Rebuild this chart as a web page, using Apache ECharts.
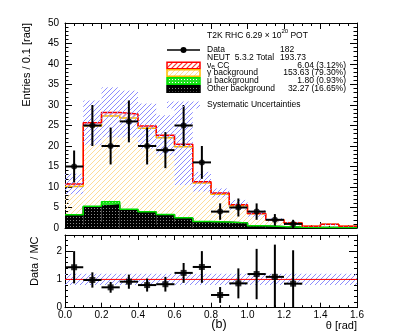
<!DOCTYPE html>
<html><head><meta charset="utf-8">
<script src="https://cdn.jsdelivr.net/npm/echarts@6/dist/echarts.min.js"></script>
<style>html,body{margin:0;padding:0;background:#fff}#c{width:411px;height:336px}</style>
</head><body><div id="c"></div>
<script>
// ---------------- data ----------------
const binCenters = [0.05,0.15,0.25,0.35,0.45,0.55,0.65,0.75,0.85,0.95,1.05,1.15,1.25,1.35,1.45,1.55];
const binWidth = 0.1;
const otherBkg = [3.2,5.2,5.6,4.4,3.8,3.2,2.4,1.5,1.4,1.2,0.5,0.3,0.2,0.1,0.1,0.1];
const muBkg    = [0.05,0.1,0.8,0.2,0.15,0.1,0.1,0.1,0.05,0.05,0.05,0.05,0,0,0,0];
const gammaBkg = [6.9,19.6,20.9,22.2,20.4,18.7,17.3,9.4,6.8,4.2,2.9,1.6,1.0,0.3,0.8,0.3];
const nueCC    = [0.6,0.8,0.9,1.0,0.5,0.6,0.6,0.3,0.3,0.2,0.1,0.04,0,0,0,0];
const sysErr   = [2.5,5.4,6.1,5.7,5.5,4.9,9.9,2.4,1.1,1.2,0.8,0.4,0.3,0.1,0.2,0.1];
const dataCenters = [0.05,0.15,0.25,0.35,0.45,0.55,0.65,0.75,0.85,0.95,1.05,1.15,1.25];
const dataCounts  = [15,25,20,26,20,19,25,16,4,5,4,2,1];
const dataErr     = [3.9,5.0,4.5,5.1,4.5,4.4,5.0,4.0,2.0,2.2,2.0,1.4,1.0];
const ratioValues = [1.43,0.98,0.72,0.92,0.80,0.83,1.23,1.44,0.45,0.86,1.19,1.09,0.85];
const ratioErr    = [0.57,0.27,0.19,0.25,0.23,0.26,0.35,0.56,0.28,0.53,0.89,1.14,1.18];
const ratioBandLow = 0.8, ratioBandHigh = 1.2;
const xTickLabels = ['0.0','0.2','0.4','0.6','0.8','1.0','1.2','1.4','1.6'];
const legendTitle = ['T2K RHC 6.29 × 10','20',' POT'];
const legendLabels = ['Data','NEUT  5.3.2 Total','CC','γ background','μ background','Other background','Systematic Uncertainties'];
const legendValues = ['182','193.73','6.04 (3.12%)','153.63 (79.30%)','1.80 (0.93%)','32.27 (16.65%)'];

// ---------------- patterns ----------------
function makeHatch(color, size, lw) {
  const c = document.createElement('canvas'); c.width = size; c.height = size;
  const g = c.getContext('2d'); g.strokeStyle = color; g.lineWidth = lw;
  g.beginPath();
  g.moveTo(0, size); g.lineTo(size, 0);
  g.moveTo(-1, 1); g.lineTo(1, -1);
  g.moveTo(size - 1, size + 1); g.lineTo(size + 1, size - 1);
  g.stroke();
  return {image: c, repeat: 'repeat'};
}
function makeDots(bg, dot, w, h) {
  const c = document.createElement('canvas'); c.width = w; c.height = h;
  const g = c.getContext('2d'); g.fillStyle = bg; g.fillRect(0, 0, w, h);
  g.fillStyle = dot; g.fillRect(1, 1, 1, 1);
  return {image: c, repeat: 'repeat'};
}
const patRed = makeHatch('#ff3030', 5, 1.2);
const patYellow = makeHatch('#fddc98', 5, 1);
const patBlue = makeHatch('#8c8cff', 5, 1);
const patGreen = makeDots('#22e022', '#ffffff', 3, 3);
const patBlack = makeDots('#000000', '#8a8a8a', 3, 3);

// ---------------- cumulative levels ----------------
const n = binCenters.length;
const lvl1 = otherBkg.slice();
const lvl2 = lvl1.map((v, i) => v + muBkg[i]);
const lvl3 = lvl2.map((v, i) => v + gammaBkg[i]);
const lvl4 = lvl3.map((v, i) => v + nueCC[i]);
const zeros = new Array(n).fill(0);

function fillSeries(lo, hi, pattern, z) {
  return {
    type: 'custom', xAxisIndex: 0, yAxisIndex: 0, z: z, silent: true, animation: false,
    data: binCenters.map((c, i) => [c, lo[i], hi[i]]),
    renderItem: (params, api) => {
      const x = api.value(0), a = api.value(1), b = api.value(2);
      const p1 = api.coord([x - binWidth / 2, b]);
      const p2 = api.coord([x + binWidth / 2, a]);
      return {type: 'rect', shape: {x: p1[0], y: p1[1], width: p2[0] - p1[0], height: p2[1] - p1[1]},
        style: {fill: pattern}};
    }
  };
}
function stepSeries(level, color, width, z) {
  const d = binCenters.map((c, i) => [c - binWidth / 2, level[i]]);
  d.push([binCenters[n - 1] + binWidth / 2, level[n - 1]]);
  return {type: 'line', step: 'end', xAxisIndex: 0, yAxisIndex: 0, z: z, data: d, symbol: 'none',
    silent: true, lineStyle: {color: color, width: width}};
}
function errSeries(xs, ys, es, xi, yi, ymin, ymax) {
  return {
    type: 'custom', xAxisIndex: xi, yAxisIndex: yi, z: 20, silent: true,
    data: xs.map((x, i) => [x, ys[i], es[i]]),
    renderItem: (params, api) => {
      const x = api.value(0), y = api.value(1), e = api.value(2);
      const l = api.coord([x - binWidth / 2, y]), r = api.coord([x + binWidth / 2, y]);
      const t = api.coord([x, Math.min(y + e, ymax)]), b = api.coord([x, Math.max(y - e, ymin)]);
      return {type: 'group', children: [
        {type: 'line', shape: {x1: l[0], y1: l[1], x2: r[0], y2: r[1]}, style: {stroke: '#000', lineWidth: 2}},
        {type: 'line', shape: {x1: t[0], y1: t[1], x2: b[0], y2: b[1]}, style: {stroke: '#000', lineWidth: 2}}
      ]};
    }
  };
}

const FONT = 'Liberation Sans, Arial, Helvetica, sans-serif';
function xAx(gi, pos, labels, major, minor) {
  return {type: 'value', gridIndex: gi, position: pos, min: 0, max: 1.6, interval: 0.2,
    axisLine: {show: true, onZero: false, lineStyle: {color: '#000', width: 1}},
    axisTick: {show: true, inside: true, length: major, lineStyle: {color: '#000'}},
    minorTick: {show: true, splitNumber: 4, length: minor, lineStyle: {color: '#000'}},
    splitLine: {show: false}, minorSplitLine: {show: false},
    axisLabel: {show: labels, margin: 3, fontSize: 10, color: '#000', fontFamily: FONT,
      formatter: v => xTickLabels[Math.round(v / 0.2)]}};
}
function yAx(gi, pos, labels, max, interval, minorSplit, major, minor, margin) {
  return {type: 'value', gridIndex: gi, position: pos, min: 0, max: max, interval: interval,
    axisLine: {show: true, onZero: false, lineStyle: {color: '#000', width: 1}},
    axisTick: {show: true, inside: true, length: major, lineStyle: {color: '#000'}},
    minorTick: {show: true, splitNumber: minorSplit, length: minor, lineStyle: {color: '#000'}},
    splitLine: {show: false}, minorSplitLine: {show: false},
    axisLabel: {show: labels, margin: margin, fontSize: 10, color: '#000', fontFamily: FONT, showMaxLabel: max === 50}};
}

// ---------------- legend graphics ----------------
const LX = 167, LW = 33, TX = 207, VX = 280, VR = 346;
const rowsY = [50, 58, 65.5, 73, 81, 89, 105];
const lg = [];
const tStyle = (text, x, y, align) => ({type: 'text', x: x, y: y, z: 100,
  style: {text: text, fontSize: 8.5, fontFamily: FONT, fill: '#000', align: align || 'left', verticalAlign: 'middle'}});
lg.push({type: 'text', x: TX, y: 34, z: 100, style: {
  text: '{n|' + legendTitle[0] + '}{s|' + legendTitle[1] + '}{n|' + legendTitle[2] + '}',
  verticalAlign: 'middle', align: 'left',
  rich: {n: {fontSize: 8.5, fontFamily: FONT, fill: '#000', verticalAlign: 'bottom', lineHeight: 12},
         s: {fontSize: 6, fontFamily: FONT, fill: '#000', verticalAlign: 'top', lineHeight: 12}}}});
// Data symbol
lg.push({type: 'line', z: 100, shape: {x1: LX, y1: rowsY[0], x2: LX + LW, y2: rowsY[0]}, style: {stroke: '#000', lineWidth: 1.5}});
lg.push({type: 'circle', z: 100, shape: {cx: LX + LW / 2, cy: rowsY[0], r: 3}, style: {fill: '#000'}});
lg.push(tStyle(legendLabels[0], TX, rowsY[0]));
lg.push(tStyle(legendValues[0], VX, rowsY[0]));
lg.push(tStyle(legendLabels[1], TX, rowsY[1]));
lg.push(tStyle(legendValues[1], VX, rowsY[1]));
// nue CC
lg.push({type: 'text', x: TX, y: rowsY[2], z: 100, style: {
  text: '{n|ν}{e|e}{n| ' + legendLabels[2] + '}', verticalAlign: 'middle', align: 'left',
  rich: {n: {fontSize: 8.5, fontFamily: FONT, fill: '#000', verticalAlign: 'middle', lineHeight: 10},
         e: {fontSize: 6.5, fontFamily: FONT, fill: '#000', verticalAlign: 'bottom', lineHeight: 10}}}});
const boxes = [[patRed, '#ff0000'], [patYellow, '#ffbb00'], [patGreen, '#00dd00'], [patBlack, '#000000']];
for (let k = 0; k < 4; k++) {
  const y = rowsY[2 + k];
  lg.push({type: 'rect', z: 100, shape: {x: LX, y: y - 3.2, width: LW, height: 6.4},
    style: {fill: boxes[k][0], stroke: boxes[k][1], lineWidth: 1.5}});
  if (k > 0) lg.push(tStyle(legendLabels[2 + k], TX, y));
  lg.push(tStyle(legendValues[2 + k], VR, y, 'right'));
}
lg.push({type: 'rect', z: 100, shape: {x: LX, y: rowsY[6] - 3.5, width: LW, height: 7}, style: {fill: patBlue}});
lg.push(tStyle(legendLabels[6], TX, rowsY[6]));
// axis titles
lg.push({type: 'text', x: 27, y: 23, rotation: Math.PI / 2, z: 100,
  style: {text: 'Entries / 0.1 [rad]', fontSize: 11, fontFamily: FONT, fill: '#000', align: 'right', verticalAlign: 'middle'}});
lg.push({type: 'text', x: 35, y: 236.5, rotation: Math.PI / 2, z: 100,
  style: {text: 'Data / MC', fontSize: 11, fontFamily: FONT, fill: '#000', align: 'right', verticalAlign: 'middle'}});
lg.push({type: 'text', x: 357, y: 326, z: 100,
  style: {text: 'θ [rad]', fontSize: 11, fontFamily: FONT, fill: '#000', align: 'right', verticalAlign: 'middle'}});
lg.push({type: 'text', x: 219, y: 325, z: 100,
  style: {text: '(b)', fontSize: 12.5, fontFamily: FONT, fill: '#000', align: 'center', verticalAlign: 'middle'}});

// ---------------- option ----------------
const chart = echarts.init(document.getElementById('c'), null, {renderer: 'canvas'});
const option = {
  animation: false,
  backgroundColor: '#fff',
  grid: [
    {left: 65, top: 23, width: 292, height: 205, containLabel: false},
    {left: 65, top: 235, width: 292, height: 72.7, containLabel: false}
  ],
  xAxis: [
    xAx(0, 'bottom', false, 6, 3),
    xAx(0, 'top', false, 6, 3),
    xAx(1, 'bottom', true, 5, 2.5),
    xAx(1, 'top', false, 5, 2.5)
  ],
  yAxis: [
    yAx(0, 'left', true, 50, 5, 5, 7, 3.5, 6),
    yAx(0, 'right', false, 50, 5, 5, 7, 3.5, 6),
    yAx(1, 'left', true, 2.57, 1, 5, 8, 3, 3),
    yAx(1, 'right', false, 2.57, 1, 5, 8, 3, 3)
  ],
  series: [
    fillSeries(zeros, lvl1, patBlack, 2),
    fillSeries(lvl1, lvl2, patGreen, 2),
    fillSeries(lvl2, lvl3, patYellow, 2),
    fillSeries(lvl3, lvl4, patRed, 2),
    stepSeries(lvl1, '#000000', 1.5, 4),
    stepSeries(lvl2, '#00dd00', 1.5, 5),
    stepSeries(lvl3, '#ffbb00', 1.5, 6),
    stepSeries(lvl4, '#ff0000', 1.5, 7),
    {
      type: 'custom', xAxisIndex: 0, yAxisIndex: 0, z: 8, silent: true,
      data: binCenters.map((c, i) => [c, lvl4[i], sysErr[i]]),
      renderItem: (params, api) => {
        const x = api.value(0), v = api.value(1), e = api.value(2);
        const p1 = api.coord([x - binWidth / 2, v + e]);
        const p2 = api.coord([x + binWidth / 2, Math.max(v - e, 0)]);
        return {type: 'rect', shape: {x: p1[0], y: p1[1], width: p2[0] - p1[0], height: p2[1] - p1[1]},
          style: {fill: patBlue}};
      }
    },
    errSeries(dataCenters, dataCounts, dataErr, 0, 0, 0, 50),
    {type: 'scatter', xAxisIndex: 0, yAxisIndex: 0, z: 21, symbol: 'circle', symbolSize: 6, silent: true,
      itemStyle: {color: '#000'}, data: dataCenters.map((x, i) => [x, dataCounts[i]])},
    {
      type: 'custom', xAxisIndex: 2, yAxisIndex: 2, z: 8, silent: true,
      data: [[0, ratioBandLow, 1.6, ratioBandHigh]],
      renderItem: (params, api) => {
        const p1 = api.coord([api.value(0), api.value(3)]);
        const p2 = api.coord([api.value(2), api.value(1)]);
        return {type: 'rect', shape: {x: p1[0], y: p1[1], width: p2[0] - p1[0], height: p2[1] - p1[1]},
          style: {fill: patBlue}};
      }
    },
    {type: 'line', xAxisIndex: 2, yAxisIndex: 2, z: 9, symbol: 'none', silent: true,
      lineStyle: {color: '#ff0000', width: 1}, data: [[0, 1], [1.6, 1]]},
    errSeries(dataCenters, ratioValues, ratioErr, 2, 2, 0, 2.57),
    {type: 'scatter', xAxisIndex: 2, yAxisIndex: 2, z: 21, symbol: 'rect', symbolSize: 6, silent: true,
      itemStyle: {color: '#000'}, data: dataCenters.map((x, i) => [x, ratioValues[i]])}
  ],
  graphic: lg
};
chart.setOption(option);
</script></body></html>
